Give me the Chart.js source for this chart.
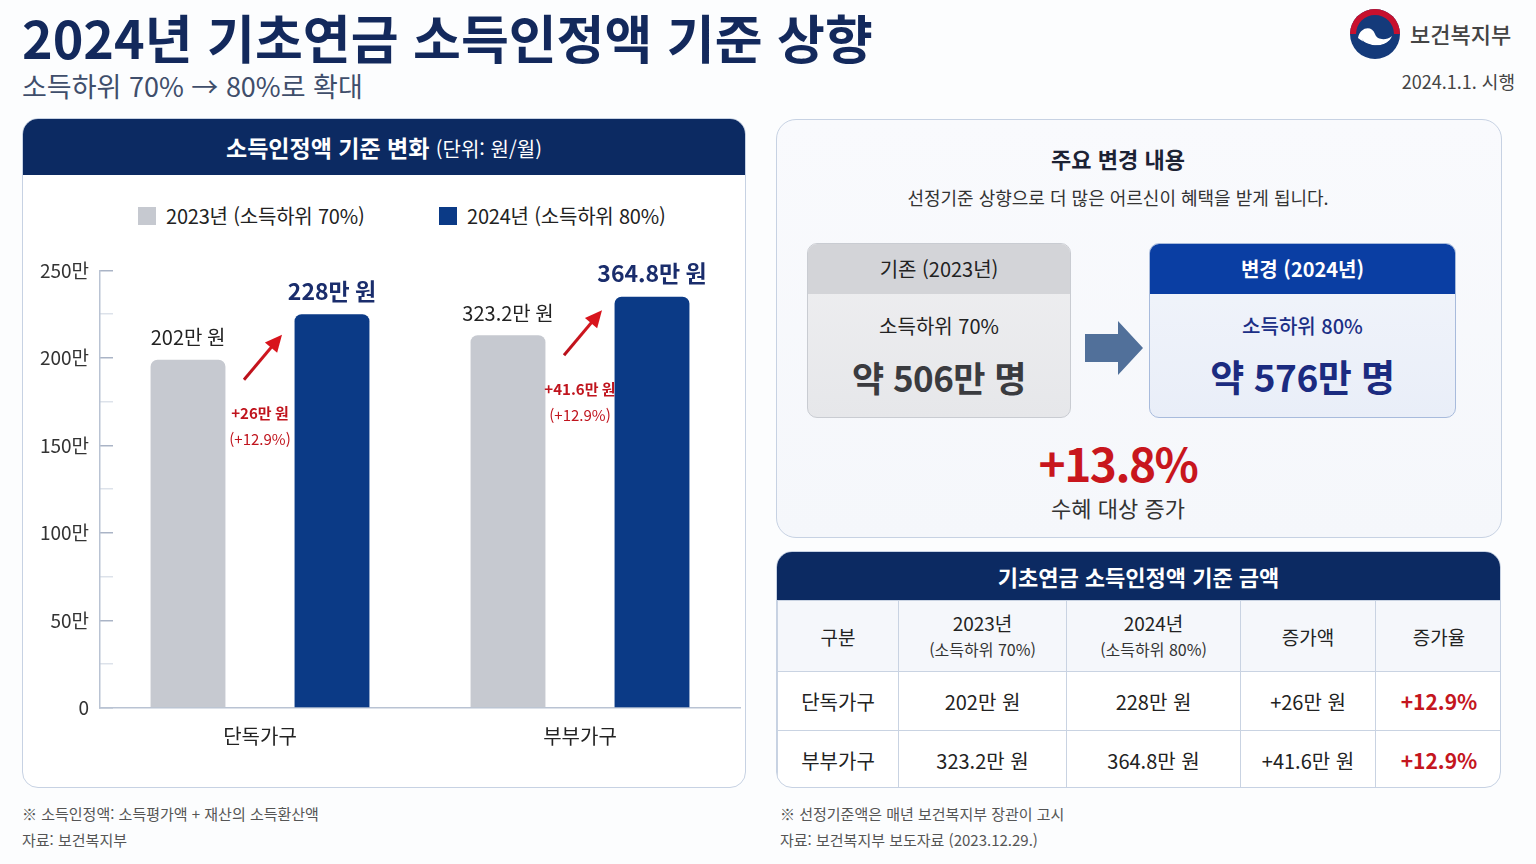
<!DOCTYPE html>
<html lang="ko">
<head>
<meta charset="utf-8">
<script src="https://cdn.jsdelivr.net/npm/chart.js@4.4.1/dist/chart.umd.min.js"></script>
<style>
  html,body{margin:0;padding:0;}
  body{width:1536px;height:864px;position:relative;background:#fcfdfe;font-family:"Noto Sans CJK KR","Noto Sans",sans-serif;color:#222;overflow:hidden;}
  .abs{position:absolute;}
  #title{left:22px;top:3px;font-size:52px;font-weight:700;color:#13295c;letter-spacing:0px;white-space:nowrap;line-height:68px;}
  #subtitle{left:22px;top:68px;font-size:27px;color:#3f4e6b;white-space:nowrap;line-height:36px;}
  #org{left:1410px;top:16px;font-size:22px;color:#444;line-height:34px;font-weight:500;}
  #date{right:21px;top:68px;font-size:18px;color:#444;line-height:26px;}
  .card{position:absolute;border:1.5px solid #c7d2e3;border-radius:16px;background:#fff;box-sizing:border-box;overflow:hidden;}
  .hdr{position:absolute;left:0;right:0;top:0;background:#0c2a62;color:#fff;text-align:center;}
  #leftcard{left:22px;top:118px;width:724px;height:670px;}
  #leftcard .hdr{height:56px;line-height:56px;font-size:23px;font-weight:700;}
  #leftcard .hdr span{font-weight:400;font-size:20px;}
  .leg{position:absolute;top:204px;font-size:20px;line-height:24px;color:#222;white-space:nowrap;letter-spacing:-0.2px;}
  .leg i{position:absolute;left:-28px;top:3px;width:18px;height:18px;}
  #chartwrap{position:absolute;left:30px;top:235px;width:712px;height:525px;}
  #topcard{left:776px;top:119px;width:726px;height:419px;background:linear-gradient(#f9fafd,#f5f7fb);border-radius:20px;}
  .ctr{position:absolute;left:0;right:0;text-align:center;white-space:nowrap;}
  .shift{right:42px;}
  .box{position:absolute;box-sizing:border-box;border-radius:10px;overflow:hidden;}
  .box .bh{position:absolute;left:0;right:0;top:0;height:50px;line-height:50px;text-align:center;font-size:20px;}
  #tblcard{left:776px;top:551px;width:725px;height:237px;border-radius:16px;}
  #tblcard .hdr{height:48px;line-height:48px;font-size:22px;font-weight:700;}
  table{position:absolute;left:0;top:48px;border-collapse:collapse;table-layout:fixed;width:725px;}
  td{border:1px solid #c9d3e2;text-align:center;font-size:20px;color:#222;padding:0;}
  tr.h td{height:70px;background:#f5f7fb;font-size:19px;line-height:25px;}
  tr.h td small{font-size:16px;color:#333;}
  tr.r1 td{height:58px;}
  tr.r2 td{height:58px;}
  td.red{color:#c4161e;font-weight:600;font-size:21px;}
  .foot{position:absolute;font-size:15px;color:#555;white-space:nowrap;line-height:20px;}
</style>
</head>
<body>
<div id="title" class="abs">2024년 기초연금 소득인정액 기준 상향</div>
<div id="subtitle" class="abs">소득하위 70% → 80%로 확대</div>

<svg class="abs" style="left:1348px;top:7px" width="54" height="54" viewBox="0 0 54 54">
  <circle cx="27" cy="27" r="25" fill="#143a7a"/>
  <path d="M2 27 A25 25 0 0 1 52 27 L46 27 A19 19 0 0 0 8 27 Z" fill="#c8102e"/>
  <path d="M10 31 C12 20 24 18 27 27 C29 33 38 34 44 29 C40 40 24 42 10 31 Z" fill="#ffffff"/>
  <path d="M14 32 C18 40 34 41 42 33 C37 44 19 45 14 32 Z" fill="#143a7a"/>
</svg>
<div id="org" class="abs">보건복지부</div>
<div id="date" class="abs">2024.1.1. 시행</div>

<div id="leftcard" class="card">
  <div class="hdr">소득인정액 기준 변화 <span>(단위: 원/월)</span></div>
</div>
<div class="leg" style="left:166px"><i id="lg0"></i><span id="lt0"></span></div>
<div class="leg" style="left:467px"><i id="lg1"></i><span id="lt1"></span></div>
<div id="chartwrap"><canvas id="c"></canvas></div>

<div id="topcard" class="card">
  <div class="ctr shift" style="top:22px;font-size:22px;font-weight:700;color:#1c2234;line-height:32px;">주요 변경 내용</div>
  <div class="ctr shift" style="top:64px;font-size:18px;color:#333;line-height:26px;">선정기준 상향으로 더 많은 어르신이 혜택을 받게 됩니다.</div>
  <div class="box" style="left:30px;top:123px;width:264px;height:175px;border:1.5px solid #c9ccd2;background:linear-gradient(#efeff1,#e6e7ea);">
    <div class="bh" style="background:#d3d4d8;color:#222;">기존 (2023년)</div>
    <div class="ctr" style="top:68px;font-size:20px;color:#222;line-height:28px;">소득하위 70%</div>
    <div class="ctr" style="top:110px;font-size:35px;font-weight:700;color:#3a3b3f;line-height:46px;letter-spacing:-0.5px;">약 506만 명</div>
  </div>
  <svg class="abs" style="left:307px;top:200px" width="60" height="56" viewBox="0 0 60 56">
    <path d="M1 14 L34 14 L34 1 L59 28 L34 55 L34 42 L1 42 Z" fill="#51709a"/>
  </svg>
  <div class="box" style="left:372px;top:123px;width:307px;height:175px;border:1.5px solid #a8bbdc;background:linear-gradient(#f2f5fb,#e9eef8);">
    <div class="bh" style="background:#0a3ea3;color:#fff;font-weight:600;">변경 (2024년)</div>
    <div class="ctr" style="top:68px;font-size:20px;color:#1b2f86;line-height:28px;font-weight:500;">소득하위 80%</div>
    <div class="ctr" style="top:109px;font-size:37px;font-weight:700;color:#1b2b80;line-height:46px;letter-spacing:-0.5px;">약 576만 명</div>
  </div>
  <div class="ctr shift" style="top:313px;font-size:46px;font-weight:700;color:#c8161d;line-height:58px;letter-spacing:-1.5px;">+13.8%</div>
  <div class="ctr shift" style="top:372px;font-size:22px;color:#333;line-height:30px;">수혜 대상 증가</div>
</div>

<div id="tblcard" class="card">
  <div class="hdr">기초연금 소득인정액 기준 금액</div>
  <table>
    <colgroup><col style="width:121px"><col style="width:168px"><col style="width:174px"><col style="width:135px"><col style="width:127px"></colgroup>
    <tr class="h"><td>구분</td><td>2023년<br><small>(소득하위 70%)</small></td><td>2024년<br><small>(소득하위 80%)</small></td><td>증가액</td><td>증가율</td></tr>
    <tr class="r1" id="row0"></tr>
    <tr class="r2" id="row1"></tr>
  </table>
</div>

<div class="foot" style="left:22px;top:804px;">※ 소득인정액: 소득평가액 + 재산의 소득환산액</div>
<div class="foot" style="left:22px;top:830px;">자료: 보건복지부</div>
<div class="foot" style="left:780px;top:804px;">※ 선정기준액은 매년 보건복지부 장관이 고시</div>
<div class="foot" style="left:780px;top:830px;">자료: 보건복지부 보도자료 (2023.12.29.)</div>

<script>
// ---- data ----
const categories = ["단독가구", "부부가구"];
const seriesNames = ["2023년 (소득하위 70%)", "2024년 (소득하위 80%)"];
// bar heights as drawn in the reference (read against its 0–250만 axis)
const bars2023 = [199, 213];
const bars2024 = [225, 235];
// value labels printed in the reference
const labels2023 = ["202만 원", "323.2만 원"];
const labels2024 = ["228만 원", "364.8만 원"];
const diffLabels = ["+26만 원", "+41.6만 원"];
const rateLabels = ["+12.9%", "+12.9%"];
const yTickMax = 250;
const yTickStep = 25;
const yLabelStep = 50;

const colors = ["#c6c9d0", "#0b3a86"];

// legend & table text
document.getElementById('lg0').style.background = colors[0];
document.getElementById('lg1').style.background = colors[1];
document.getElementById('lt0').textContent = seriesNames[0];
document.getElementById('lt1').textContent = seriesNames[1];
for (let i = 0; i < categories.length; i++) {
  document.getElementById('row' + i).innerHTML =
    `<td>${categories[i]}</td><td>${labels2023[i]}</td><td>${labels2024[i]}</td><td>${diffLabels[i]}</td><td class="red">${rateLabels[i]}</td>`;
}

const FONT = '"Noto Sans CJK KR", sans-serif';
Chart.defaults.font.family = FONT;

const annot = {
  id: 'annot',
  afterDatasetsDraw(chart) {
    const ctx = chart.ctx;
    const m0 = chart.getDatasetMeta(0), m1 = chart.getDatasetMeta(1);
    ctx.save();
    ctx.textAlign = 'center';
    ctx.textBaseline = 'middle';
    for (let i = 0; i < categories.length; i++) {
      const g = m0.data[i], n = m1.data[i];
      // value labels
      ctx.fillStyle = '#222';
      ctx.font = 'normal 400 20px ' + FONT;
      ctx.fillText(labels2023[i], g.x, g.y - 22);
      ctx.fillStyle = '#1a2d6c';
      ctx.font = 'normal 700 23px ' + FONT;
      ctx.fillText(labels2024[i], n.x, n.y - 23);
      // arrow in the gap
      const gx = ((g.x + g.width / 2) + (n.x - n.width / 2)) / 2;
      const tx = gx - 16, ty = g.y + 20;
      const hx = gx + 22, hy = ty - 45;
      const ang = Math.atan2(hy - ty, hx - tx);
      const grad = ctx.createLinearGradient(tx, ty, hx, hy);
      grad.addColorStop(0, '#b8101a'); grad.addColorStop(1, '#e01b22');
      ctx.strokeStyle = grad; ctx.fillStyle = '#d8141c';
      ctx.lineWidth = 3;
      ctx.beginPath();
      ctx.moveTo(tx, ty);
      ctx.lineTo(hx - Math.cos(ang) * 12, hy - Math.sin(ang) * 12);
      ctx.stroke();
      ctx.beginPath();
      ctx.moveTo(hx, hy);
      ctx.lineTo(hx - Math.cos(ang) * 17 + Math.sin(ang) * 8, hy - Math.sin(ang) * 17 - Math.cos(ang) * 8);
      ctx.lineTo(hx - Math.cos(ang) * 17 - Math.sin(ang) * 8, hy - Math.sin(ang) * 17 + Math.cos(ang) * 8);
      ctx.closePath();
      ctx.fill();
      // red change labels
      ctx.fillStyle = '#c0141d';
      ctx.font = 'normal 700 15px ' + FONT;
      ctx.fillText(diffLabels[i], gx, g.y + 54);
      ctx.font = 'normal 400 15px ' + FONT;
      ctx.fillText('(' + rateLabels[i] + ')', gx, g.y + 80);
    }
    ctx.restore();
  }
};

new Chart(document.getElementById('c'), {
  type: 'bar',
  data: {
    labels: categories,
    datasets: [
      { label: seriesNames[0], data: bars2023, backgroundColor: colors[0],
        borderRadius: { topLeft: 7, topRight: 7 }, borderSkipped: 'bottom' },
      { label: seriesNames[1], data: bars2024, backgroundColor: colors[1],
        borderRadius: { topLeft: 7, topRight: 7 }, borderSkipped: 'bottom' }
    ]
  },
  options: {
    responsive: true,
    maintainAspectRatio: false,
    animation: false,
    layout: { padding: { top: 6, right: 2, left: 0, bottom: 0 } },
    datasets: { bar: { categoryPercentage: 0.9, barPercentage: 0.52 } },
    plugins: { legend: { display: false }, tooltip: { enabled: false } },
    scales: {
      x: {
        grid: { display: false },
        border: { display: true, color: '#b9c3d3', width: 1.5 },
        ticks: { color: '#222', font: { size: 20 }, padding: 8 },
        afterFit(s) { s.height = 52; }
      },
      y: {
        min: 0, max: yTickMax,
        ticks: {
          stepSize: yTickStep,
          color: '#333',
          font: { size: 19 },
          padding: 24,
          callback: (v) => (v % yLabelStep === 0 ? (v === 0 ? '0' : v + '만') : '')
        },
        grid: {
          drawOnChartArea: false,
          drawTicks: true,
          tickLength: -13,
          lineWidth: 1.5,
          color: (c) => (c.tick && c.tick.value % yLabelStep === 0 ? '#aab4c6' : '#dde2ea')
        },
        border: { display: true, color: '#b9c3d3', width: 1.5 },
        afterFit(s) { s.width = 70; }
      }
    }
  },
  plugins: [annot]
});
</script>
</body>
</html>
